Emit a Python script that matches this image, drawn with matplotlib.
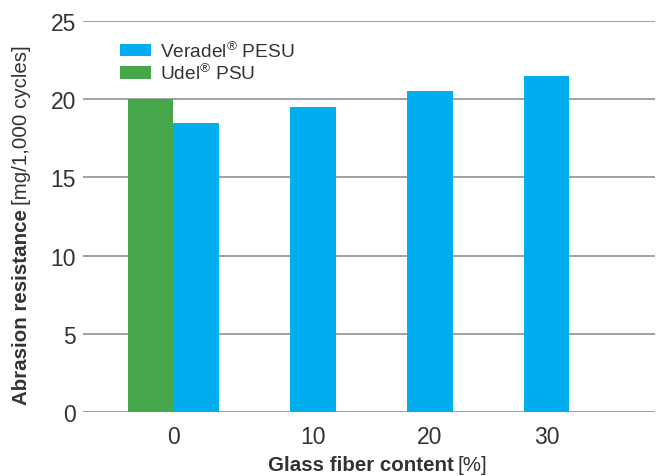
import matplotlib.pyplot as plt
import numpy as np

plt.rcParams['font.family'] = ['Liberation Sans', 'DejaVu Sans']
plt.rcParams['mathtext.fontset'] = 'custom'
plt.rcParams['mathtext.rm'] = 'Liberation Sans'

# Data
glass_fiber = ['0', '10', '20', '30']
veradel_pesu = [18.5, 19.5, 20.5, 21.5]
udel_psu = [20.0]  # only at 0 %
y_ticks = [0, 5, 10, 15, 20, 25]

blue = '#00AEEF'
green = '#46A64A'
grid_col = '#A0A0A0'
text_col = '#333333'

fig = plt.figure(figsize=(6.61, 4.77), dpi=100)
ax = fig.add_axes([0.1256, 0.134, 0.8654, 0.82])

w = 0.39
x = np.arange(len(glass_fiber))
ax.bar(x, veradel_pesu, width=w, align='edge', color=blue,
       label=r'Veradel$^{\mathrm{®}}$ PESU', zorder=3)
ax.bar(x[:1] - w, udel_psu, width=w, align='edge', color=green,
       label=r'Udel$^{\mathrm{®}}$ PSU', zorder=3)

ax.set_ylim(0, 25)
ax.set_xlim(-0.97 + w / 2, 3.93 + w / 2)
ax.set_yticks(y_ticks)
ax.yaxis.grid(True, color=grid_col, linewidth=1.4, zorder=0)
ax.set_axisbelow(True)

tick_pos = [0] + list(x[1:] + w / 2)
ax.set_xticks(tick_pos)
ax.set_xticklabels(glass_fiber)
ax.tick_params(length=0, labelsize=16.5, colors=text_col, pad=9)
ax.tick_params(axis='y', pad=5)
for s in ax.spines.values():
    s.set_visible(False)

leg = ax.legend(loc='upper left', bbox_to_anchor=(0.035, 0.995), frameon=False,
                fontsize=13.8, handlelength=1.62, handleheight=0.62,
                handletextpad=0.45, labelspacing=0.08, labelcolor=text_col)

# axis titles: bold part + regular part
fig.canvas.draw()
r = fig.canvas.get_renderer()

t1 = fig.text(268 / 661, 1 - 466 / 477, 'Glass fiber content', fontsize=14.8, fontweight='bold',
              color=text_col, ha='left', va='center')
bb = t1.get_window_extent(r)
fig.text((bb.x1 + 4) / 661, 1 - 466 / 477, '[%]', fontsize=14.8, color=text_col, ha='left', va='center')

t2 = fig.text(22 / 661, 1 - 405 / 477, 'Abrasion resistance', fontsize=14.8, fontweight='bold',
              color=text_col, rotation=90, ha='center', va='bottom')
bb = t2.get_window_extent(r)
fig.text(22 / 661, (bb.y1 + 4) / 477, '[mg/1,000 cycles]', fontsize=14.8, color=text_col,
         rotation=90, ha='center', va='bottom')

fig.savefig('out.png', dpi=100)
